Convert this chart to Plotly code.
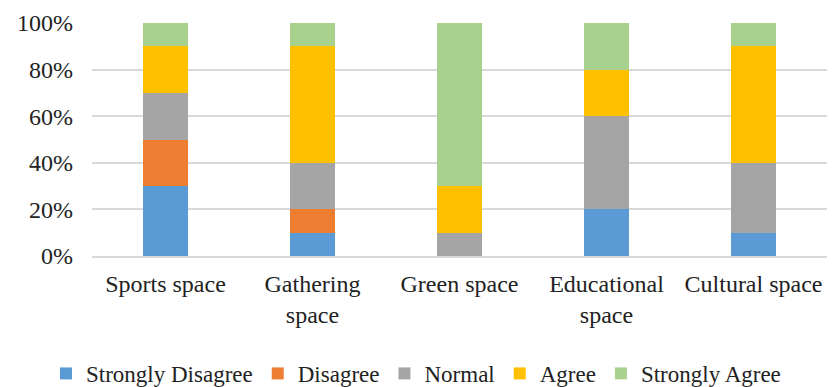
import plotly.graph_objects as go

categories = ["Sports space", "Gathering<br>space", "Green space", "Educational<br>space", "Cultural space"]
series_names = ["Strongly Disagree", "Disagree", "Normal", "Agree", "Strongly Agree"]
strongly_disagree = [30, 10, 0, 20, 10]
disagree = [20, 10, 0, 0, 0]
normal = [20, 20, 10, 40, 30]
agree = [20, 50, 20, 20, 50]
strongly_agree = [10, 10, 70, 20, 10]
y_ticks = [0, 20, 40, 60, 80, 100]

series_values = [strongly_disagree, disagree, normal, agree, strongly_agree]
colors = ["#5B9BD5", "#ED7D31", "#A5A5A5", "#FFC000", "#A9D18E"]

fig = go.Figure()
for name, vals, col in zip(series_names, series_values, colors):
    fig.add_trace(go.Bar(
        x=categories, y=vals, name=name,
        marker=dict(color=col, line=dict(width=0)),
        width=0.31,
    ))

font_family = "Times New Roman, Liberation Serif, DejaVu Serif, serif"
fig.update_layout(
    barmode="stack",
    width=832, height=387,
    margin=dict(l=92, r=5, t=23, b=131, autoexpand=False),
    plot_bgcolor="white", paper_bgcolor="white",
    font=dict(family=font_family, size=24, color="#222222"),
    showlegend=True,
    legend=dict(
        orientation="h", yref="container", xref="container",
        x=0.5, xanchor="center", y=0.035, yanchor="middle",
        font=dict(family=font_family, size=23, color="#222222"),
        itemwidth=30, tracegroupgap=0, traceorder="normal",
    ),
    xaxis=dict(
        showgrid=False, showline=True, linecolor="#d9d9d9", linewidth=1.5,
        tickfont=dict(family=font_family, size=24), ticklabelstandoff=5,
    ),
    yaxis=dict(
        range=[0, 100], tickvals=y_ticks,
        ticktext=[f"{v}%" for v in y_ticks],
        showgrid=True, gridcolor="#d9d9d9", gridwidth=1.5,
        zeroline=False, showline=False,
        tickfont=dict(family=font_family, size=24), ticklabelstandoff=18,
    ),
)

fig.write_html("out.html")
